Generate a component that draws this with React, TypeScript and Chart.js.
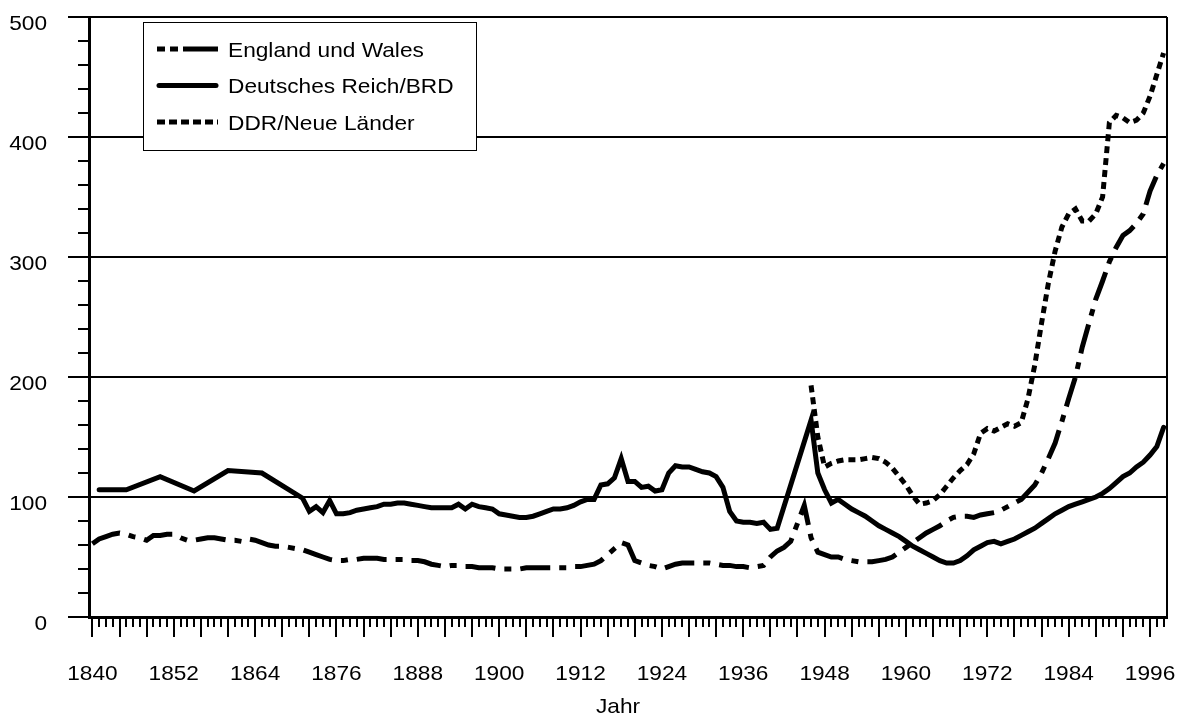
import React, { useEffect, useRef } from "react";
import { Chart, registerables } from "chart.js";

Chart.register(...registerables);

// ---------------- data ----------------
const FIRST_YEAR = 1840;
const DDR_FIRST_YEAR = 1946;

const englandWales = [
  61, 65, 67, 69, 70, 69, 67, 66, 64, 68,
  68, 69, 69, 66, 64, 64, 65, 66, 66, 65,
  64, 64, 63, 65, 64, 62, 60, 59, 59, 58,
  57, 56, 54, 52, 50, 48, 47, 47, 48, 48,
  49, 49, 49, 48, 48, 48, 48, 47, 47, 46,
  44, 43, 42, 43, 43, 42, 42, 41, 41, 41,
  40, 40, 40, 40, 41, 41, 41, 41, 41, 41,
  41, 42, 42, 43, 44, 47, 52, 57, 62, 60,
  47, 45, 43, 42, 40, 42, 44, 45, 45, 45,
  45, 45, 44, 43, 43, 42, 42, 41, 42, 43,
  50, 55, 58, 63, 78, 93, 66, 54, 52, 50,
  50, 48, 47, 46, 46, 46, 47, 48, 50, 54,
  58, 62, 66, 70, 73, 76, 80, 83, 84, 84,
  83, 85, 86, 87, 89, 92, 95, 98, 104, 110,
  120, 132, 145, 163, 182, 200, 225, 245, 265, 280,
  296, 308, 318, 322, 328, 336, 355, 368, 378,
];

const deutschesReich = [
  null, 106, null, null, null, 106, null, null, null, null,
  117, null, null, null, null, 105, null, null, null, null,
  122, null, null, null, null, 120, null, null, null, null,
  null, 99, 88, 92, 87, 97, 86, 86, 87, 89,
  90, 91, 92, 94, 94, 95, 95, 94, 93, 92,
  91, 91, 91, 91, 94, 90, 94, 92, 91, 90,
  86, 85, 84, 83, 83, 84, 86, 88, 90, 90,
  91, 93, 96, 98, 98, 110, 111, 116, 132, 113,
  113, 108, 109, 105, 106, 120, 126, 125, 125, 123,
  121, 120, 117, 108, 88, 80, 79, 79, 78, 79,
  73, 74, null, null, null, null, 164, 120, 106, 95,
  98, 94, 90, 87, 84, 80, 76, 73, 70, 67,
  63, 59, 56, 53, 50, 47, 45, 45, 47, 51,
  56, 59, 62, 63, 61, 63, 65, 68, 71, 74,
  78, 82, 86, 89, 92, 94, 96, 98, 100, 103,
  107, 112, 117, 120, 125, 129, 135, 142, 158,
];

const ddrNeueLaender = [
  193, 150, 125, 128,
  130, 131, 131, 131, 132, 133, 132, 129, 124, 117,
  110, 101, 94, 95, 97, 102, 109, 116, 122, 127,
  136, 153, 157, 155, 158, 161, 159, 162, 182, 210,
  245, 278, 305, 325, 336, 340, 330, 330, 336, 350,
  412, 418, 416, 412, 414, 420, 434, 452, 470,
];

const seriesNames = ["England und Wales", "Deutsches Reich/BRD", "DDR/Neue Länder"];
const xTickLabels = ["1840", "1852", "1864", "1876", "1888", "1900", "1912", "1924", "1936", "1948", "1960", "1972", "1984", "1996"];
const yTickLabels = ["0", "100", "200", "300", "400", "500"];
const xTitle = "Jahr";

const years = englandWales.map((_, i) => FIRST_YEAR + i);

// ---------------- styling ----------------
const FONT = '21px "Liberation Sans", Arial, sans-serif';
const TEXT_SX = 1.08;
const Y_MINOR_STEP = 20;
const Y_MAJOR_STEP = 100;

function drawText(ctx: CanvasRenderingContext2D, text: string, x: number, y: number, align: CanvasTextAlign) {
  ctx.save();
  ctx.translate(x, y);
  ctx.scale(TEXT_SX, 1);
  ctx.font = FONT;
  ctx.fillStyle = "#000";
  ctx.textAlign = align;
  ctx.textBaseline = "alphabetic";
  ctx.fillText(text, 0, 0);
  ctx.restore();
}

const decorPlugin = {
  id: "decor",
  afterDraw(chart: any) {
    const ctx: CanvasRenderingContext2D = chart.ctx;
    const ca = chart.chartArea;
    const xs = chart.scales.x;
    const ys = chart.scales.y;
    ctx.save();
    ctx.strokeStyle = "#000";
    ctx.setLineDash([]);
    ctx.lineCap = "butt";

    // right border
    ctx.lineWidth = 2;
    ctx.beginPath();
    ctx.moveTo(ca.right, ca.top);
    ctx.lineTo(ca.right, ca.bottom);
    ctx.stroke();

    // x tick marks (every year, longer every 4 years)
    ctx.lineWidth = 2;
    for (const yr of years) {
      const px = Math.round(xs.getPixelForValue(yr));
      const len = yr % 4 === 0 ? 20 : 10;
      ctx.beginPath();
      ctx.moveTo(px, ca.bottom);
      ctx.lineTo(px, ca.bottom + len);
      ctx.stroke();
    }

    // y tick marks
    for (let v = ys.min; v <= ys.max; v += Y_MINOR_STEP) {
      const py = Math.round(ys.getPixelForValue(v));
      const len = v % Y_MAJOR_STEP === 0 ? 21 : 11;
      ctx.beginPath();
      ctx.moveTo(ca.left - len, py);
      ctx.lineTo(ca.left, py);
      ctx.stroke();
    }

    // x labels
    for (const lab of xTickLabels) {
      const px = xs.getPixelForValue(Number(lab));
      drawText(ctx, lab, px, ca.bottom + 63, "center");
    }
    // y labels
    for (const lab of yTickLabels) {
      const py = ys.getPixelForValue(Number(lab));
      drawText(ctx, lab, 47, py + 13, "right");
    }
    // axis title
    drawText(ctx, xTitle, 618, 713, "center");

    // legend
    const lx = 143, ly = 22, lw = 333, lh = 128;
    ctx.fillStyle = "#fff";
    ctx.fillRect(lx, ly, lw, lh);
    ctx.lineWidth = 1;
    ctx.strokeStyle = "#000";
    ctx.strokeRect(lx + 0.5, ly + 0.5, lw, lh);
    const rows = [49, 85.5, 122];
    const legendDash = [[8, 5, 8, 5, 40], [], [8, 4]];
    const legendCap: CanvasLineCap[] = ["butt", "round", "butt"];
    seriesNames.forEach((name, i) => {
      ctx.save();
      ctx.strokeStyle = "#000";
      ctx.lineWidth = 5;
      ctx.setLineDash(legendDash[i]);
      ctx.lineCap = legendCap[i];
      ctx.beginPath();
      const x0 = i === 1 ? 159 : 157;
      const x1 = i === 1 ? 216 : 218;
      ctx.moveTo(x0, rows[i]);
      ctx.lineTo(x1, rows[i]);
      ctx.stroke();
      ctx.restore();
      drawText(ctx, name, 228, rows[i] + 7.5, "left");
    });

    ctx.restore();
  },
};

export default function App() {
  const ref = useRef<HTMLCanvasElement | null>(null);

  useEffect(() => {
    const canvas = ref.current;
    if (!canvas) return;
    const chart = new Chart(canvas, {
      type: "line",
      data: {
        datasets: [
          {
            label: seriesNames[0],
            data: years.map((yr, i) => ({ x: yr, y: englandWales[i] })),
            borderColor: "#000",
            borderWidth: 5,
            borderDash: [30, 9, 7, 9],
            borderCapStyle: "butt",
            pointRadius: 0,
            tension: 0,
            spanGaps: true,
            fill: false,
          },
          {
            label: seriesNames[1],
            data: years.map((yr, i) => ({ x: yr, y: deutschesReich[i] })),
            borderColor: "#000",
            borderWidth: 5,
            borderCapStyle: "round",
            pointRadius: 0,
            tension: 0,
            spanGaps: true,
            fill: false,
          },
          {
            label: seriesNames[2],
            data: ddrNeueLaender.map((v, i) => ({ x: DDR_FIRST_YEAR + i, y: v })),
            borderColor: "#000",
            borderWidth: 5,
            borderDash: [7, 5],
            borderCapStyle: "butt",
            pointRadius: 0,
            tension: 0,
            spanGaps: true,
            fill: false,
          },
        ],
      } as any,
      options: {
        responsive: false,
        animation: false,
        events: [],
        layout: { padding: { top: 17, right: 13, left: 0, bottom: 0 } },
        plugins: {
          legend: { display: false },
          tooltip: { enabled: false },
          title: { display: false },
        },
        scales: {
          x: {
            type: "linear",
            min: 1839.5,
            max: 1998.5,
            ticks: { display: false },
            grid: { display: false, drawTicks: false },
            border: { display: true, width: 3, color: "#000" },
            afterFit: (s: any) => {
              s.height = 103;
            },
          },
          y: {
            min: 0,
            max: 500,
            ticks: { display: false, stepSize: 100 },
            grid: { color: "#000", lineWidth: 2, drawTicks: false },
            border: { display: true, width: 3, color: "#000" },
            afterFit: (s: any) => {
              s.width = 89;
            },
          },
        },
      } as any,
      plugins: [decorPlugin],
    });
    return () => chart.destroy();
  }, []);

  return (
    <div style={{ position: "fixed", left: 0, top: 0, width: 1180, height: 720, background: "#fff" }}>
      <canvas ref={ref} width={1180} height={720} style={{ display: "block", width: 1180, height: 720 }} />
    </div>
  );
}
